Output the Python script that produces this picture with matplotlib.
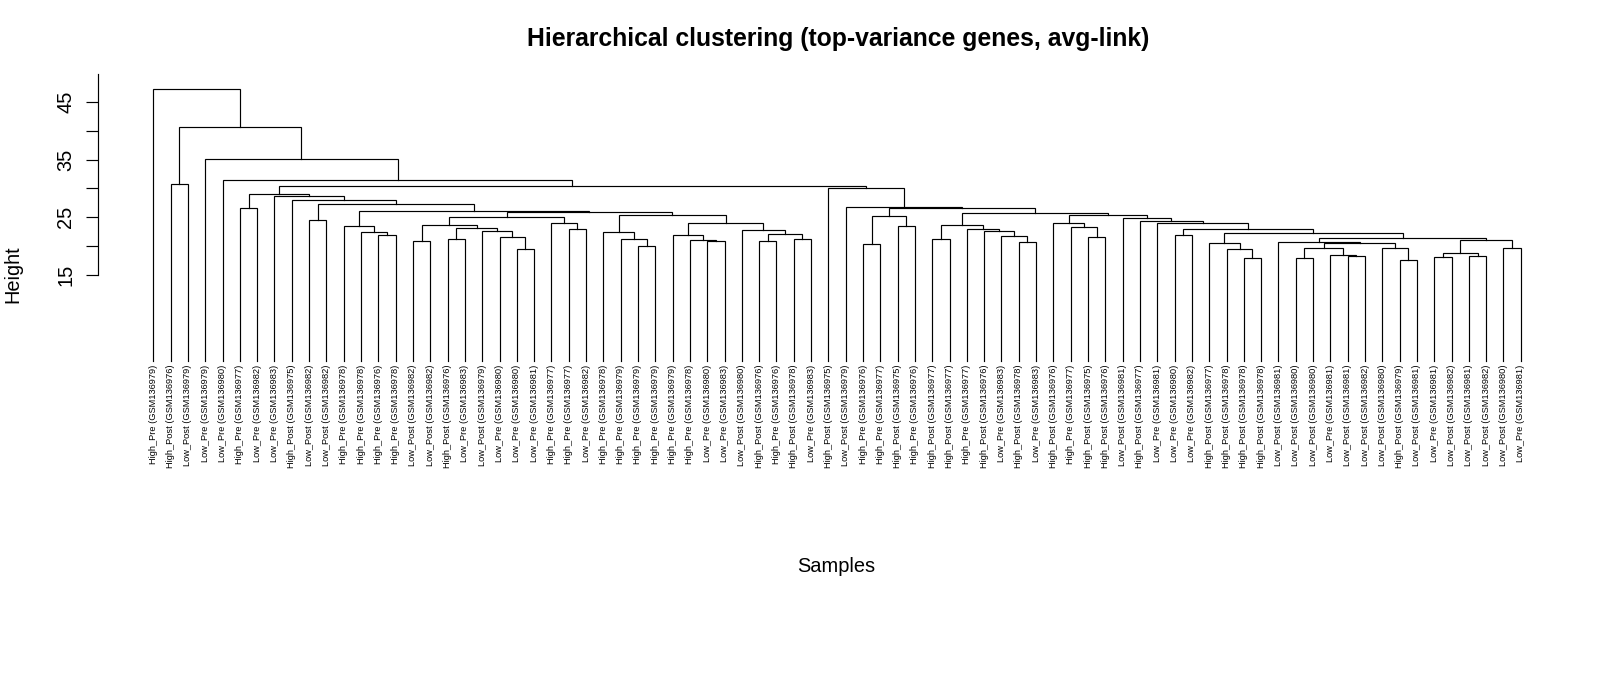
import matplotlib
matplotlib.use("Agg")
import matplotlib.pyplot as plt

plt.rcParams['font.family'] = ['Liberation Sans', 'DejaVu Sans']

# ---- leaf labels in plotted order ----
sample_labels = [
    "High_Pre (GSM136979)", "High_Post (GSM136976)", "Low_Post (GSM136979)", "Low_Pre (GSM136979)",
    "Low_Pre (GSM136980)", "High_Pre (GSM136977)", "Low_Pre (GSM136982)", "Low_Pre (GSM136983)",
    "High_Post (GSM136975)", "Low_Post (GSM136982)", "Low_Post (GSM136982)", "High_Pre (GSM136978)",
    "High_Pre (GSM136978)", "High_Pre (GSM136976)", "High_Pre (GSM136978)", "Low_Post (GSM136982)",
    "Low_Post (GSM136982)", "High_Post (GSM136976)", "Low_Pre (GSM136983)", "Low_Post (GSM136979)",
    "Low_Pre (GSM136980)", "Low_Pre (GSM136980)", "Low_Pre (GSM136981)", "High_Pre (GSM136977)",
    "High_Pre (GSM136977)", "Low_Pre (GSM136982)", "High_Pre (GSM136978)", "High_Pre (GSM136979)",
    "High_Pre (GSM136979)", "High_Pre (GSM136979)", "High_Pre (GSM136979)", "High_Pre (GSM136978)",
    "Low_Pre (GSM136980)", "Low_Pre (GSM136983)", "Low_Post (GSM136980)", "High_Post (GSM136976)",
    "High_Pre (GSM136976)", "High_Post (GSM136978)", "Low_Pre (GSM136983)", "High_Post (GSM136975)",
    "Low_Post (GSM136979)", "High_Pre (GSM136976)", "High_Pre (GSM136977)", "High_Post (GSM136975)",
    "High_Pre (GSM136976)", "High_Post (GSM136977)", "High_Post (GSM136977)", "High_Pre (GSM136977)",
    "High_Post (GSM136976)", "Low_Pre (GSM136983)", "High_Post (GSM136978)", "Low_Pre (GSM136983)",
    "High_Post (GSM136976)", "High_Pre (GSM136977)", "High_Post (GSM136975)", "High_Post (GSM136976)",
    "Low_Post (GSM136981)", "High_Post (GSM136977)", "Low_Pre (GSM136981)", "Low_Pre (GSM136980)",
    "Low_Pre (GSM136982)", "High_Post (GSM136977)", "High_Post (GSM136978)", "High_Post (GSM136978)",
    "High_Post (GSM136978)", "Low_Post (GSM136981)", "Low_Post (GSM136980)", "Low_Post (GSM136980)",
    "Low_Pre (GSM136981)", "Low_Post (GSM136981)", "Low_Post (GSM136982)", "Low_Post (GSM136980)",
    "High_Post (GSM136979)", "Low_Post (GSM136981)", "Low_Pre (GSM136981)", "Low_Post (GSM136982)",
    "Low_Post (GSM136981)", "Low_Post (GSM136982)", "Low_Post (GSM136980)", "Low_Pre (GSM136981)",
]

# ---- merge table (hclust style: negative = leaf position, positive = earlier merge step) ----
merge_left = [
    -14, -13, -12, -10, -6, -16, -18, -22, -21, -20,
    7, 6, -25, -24, 12, -29, -28, -27, -33, -32,
    -31, -36, -38, 22, -35, 21, 18, 15, 3, 4,
    -9, -8, 5, -42, -44, 34, -46, -51, -50, -49,
    -48, 37, -55, -54, -53, -60, -64, -63, -62, -67,
    -70, -69, 50, -73, -72, 53, -66, -75, -77, 58,
    -79, 60, 57, 49, 46, -59, -58, -57, 45, 42,
    36, -41, -40, 33, -5, -4, -2, 77, -1,
]
merge_right = [
    -15, 1, 2, -11, -7, -17, -19, -23, 8, 9,
    10, 11, -26, 13, 14, -30, 16, 17, -34, 19,
    20, -37, -39, 23, 24, 25, 26, 27, 28, 29,
    30, 31, 32, -43, -45, 35, -47, -52, 38, 39,
    40, 41, -56, 43, 44, -61, -65, 47, 48, -68,
    -71, 51, 52, -74, 54, 55, 56, -76, -78, 59,
    -80, 61, 62, 63, 64, 65, 66, 67, 68, 69,
    70, 71, 72, 73, 74, 75, -3, 76, 78,
]
merge_height = [
    21.9, 22.4, 23.4, 24.5, 26.5, 20.9, 21.2, 19.5, 21.6, 22.6,
    23.1, 23.7, 22.9, 23.9, 25.0, 20.0, 21.2, 22.4, 20.8, 21.0,
    21.9, 20.8, 21.1, 22.1, 22.8, 24.0, 25.3, 25.9, 26.1, 27.3,
    28.0, 28.7, 29.0, 20.4, 23.4, 25.2, 21.1, 20.6, 21.7, 22.6,
    23.0, 23.7, 21.5, 23.2, 24.0, 21.8, 17.8, 19.4, 20.5, 17.9,
    18.2, 18.4, 19.7, 17.6, 19.7, 20.5, 20.7, 18.0, 18.2, 18.8,
    19.7, 21.0, 21.3, 22.2, 22.9, 23.9, 24.3, 24.9, 25.4, 25.7,
    26.5, 26.8, 30.0, 30.4, 31.5, 35.2, 30.8, 40.7, 47.3,
]

y_ticks = [15, 20, 25, 30, 35, 40, 45]
y_tick_labels = ["15", "", "25", "", "35", "", "45"]

# ---- figure / axes geometry (pixels of a 1600x677 canvas) ----
W, H = 1600, 677
fig = plt.figure(figsize=(W / 100, H / 100), dpi=100)
leaf0_px, leaf_step_px = 153.3, 17.31
ax_left_px, ax_right_px = 98.3, 1540.0
y0_px, y50_px = 360.6, 73.6
ax = fig.add_axes([ax_left_px / W, (H - y0_px) / H,
                   (ax_right_px - ax_left_px) / W, (y0_px - y50_px) / H])
ax.set_xlim(1 + (ax_left_px - leaf0_px) / leaf_step_px,
            1 + (ax_right_px - leaf0_px) / leaf_step_px)
ax.set_ylim(0, 50)

# ---- draw dendrogram ----
lw = 0.85
node_x, node_h = {}, {}

def child_pos(c):
    if c < 0:
        return float(-c), 0.0
    return node_x[c], node_h[c]

for step, (l, r, h) in enumerate(zip(merge_left, merge_right, merge_height), start=1):
    lx, lh = child_pos(l)
    rx, rh = child_pos(r)
    ax.plot([lx, lx, rx, rx], [lh, h, h, rh], color="black", lw=lw,
            solid_joinstyle="miter", clip_on=False)
    node_x[step] = (lx + rx) / 2
    node_h[step] = h

# ---- leaf labels ----
label_y = -(365.0 - y0_px) / ((y0_px - y50_px) / 50)
for i, lab in enumerate(sample_labels, start=1):
    ax.text(i, label_y, lab, rotation=90, ha="center", va="top",
            fontsize=6.7, color="black", clip_on=False)

# ---- axes styling ----
for s in ("top", "right", "bottom"):
    ax.spines[s].set_visible(False)
ax.spines["left"].set_bounds(15, 50)
ax.spines["left"].set_linewidth(0.85)
ax.set_xticks([])
ax.set_yticks(y_ticks)
ax.set_yticklabels(y_tick_labels, rotation=90, va="center", fontsize=14.4)
ax.tick_params(axis="y", length=8.85, width=0.85, pad=7.8)

fig.text(838 / W, 1 - 39 / H, "Hierarchical clustering (top-variance genes, avg-link)",
         ha="center", va="center", fontsize=17.8, fontweight="bold")
fig.text(836.5 / W, 1 - 566.6 / H, "Samples", ha="center", va="center", fontsize=14.4)
fig.text(13.3 / W, 1 - 274.5 / H, "Height", rotation=90, ha="center", va="center", fontsize=14.4)

fig.savefig("out.png", dpi=100, facecolor="white")
